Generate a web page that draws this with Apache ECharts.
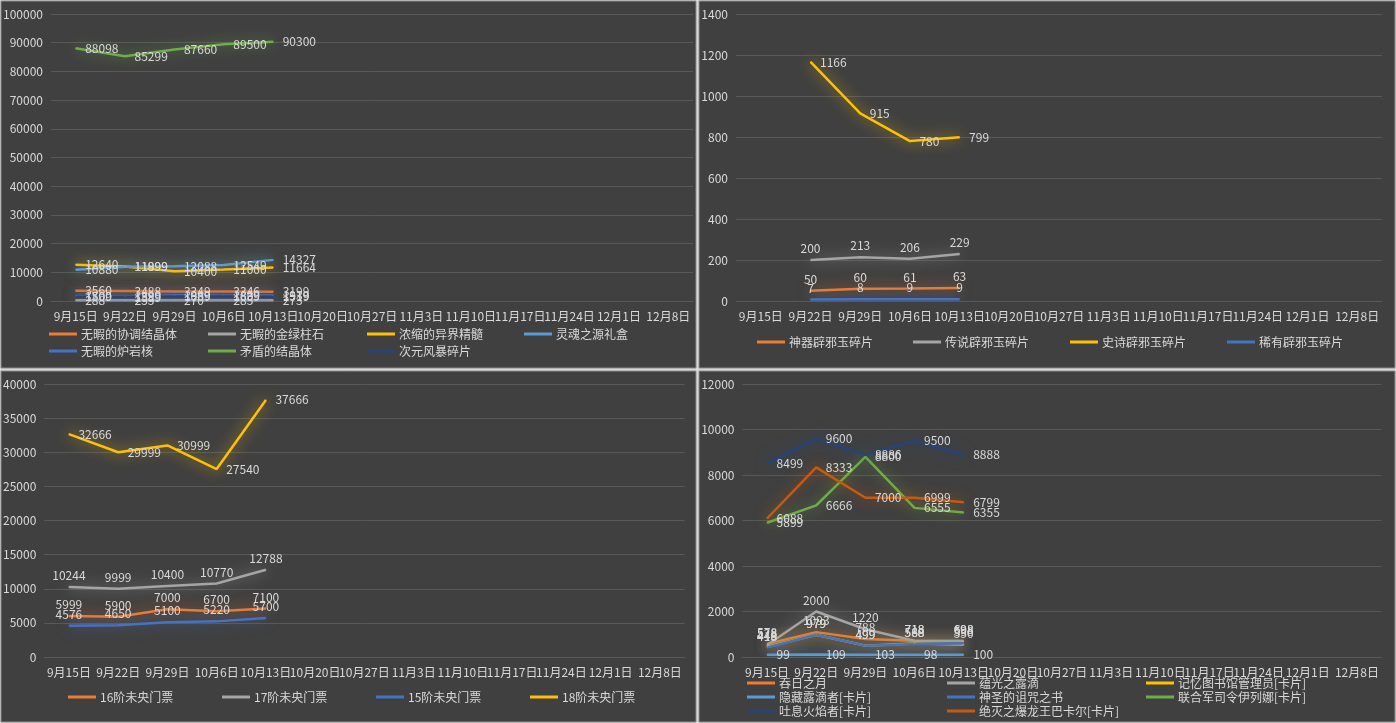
<!DOCTYPE html>
<html><head><meta charset="utf-8">
<script src="https://cdn.jsdelivr.net/npm/echarts@6/dist/echarts.min.js"></script>
<style>html,body{margin:0;padding:0;background:#d0d0d0;}#c{width:1396px;height:723px;}</style>
</head><body><div id="c"></div>
<script>
const categories = ['9月15日','9月22日','9月29日','10月6日','10月13日','10月20日','10月27日','11月3日','11月10日','11月17日','11月24日','12月1日','12月8日'];

// Panel 1
const p1Names = ['无暇的协调结晶体','无暇的金绿柱石','浓缩的异界精髓','灵魂之源礼盒','无暇的炉岩核','矛盾的结晶体','次元风暴碎片'];
const p1Xietiao = [3560, 3488, 3349, 3346, 3199];
const p1Jinlv = [288, 255, 270, 285, 273];
const p1Jingsui = [12640, 11999, 10400, 11000, 11664];
const p1Lihe = [10880, 11899, 12088, 12549, 14327];
const p1Luyan = [1700, 1599, 1989, 1839, 1939];
const p1Maodun = [88098, 85299, 87660, 89500, 90300];
const p1Ciyuan = [1509, 1389, 1609, 1609, 1519];

// Panel 2
const p2Names = ['神器辟邪玉碎片','传说辟邪玉碎片','史诗辟邪玉碎片','稀有辟邪玉碎片'];
const p2Shenqi = [null, 50, 60, 61, 63];
const p2Chuanshuo = [null, 200, 213, 206, 229];
const p2Shishi = [null, 1166, 915, 780, 799];
const p2Xiyou = [null, 7, 8, 9, 9];

// Panel 3
const p3Names = ['16阶未央门票','17阶未央门票','15阶未央门票','18阶未央门票'];
const p3T16 = [5999, 5900, 7000, 6700, 7100];
const p3T17 = [10244, 9999, 10400, 10770, 12788];
const p3T15 = [4576, 4650, 5100, 5220, 5700];
const p3T18 = [32666, 29999, 30999, 27540, 37666];

// Panel 4
const p4Names = ['吞日之月','蕴光之露滴','记忆图书馆管理员[卡片]','隐藏露滴者[卡片]','神圣的诅咒之书','联合军司令伊列娜[卡片]','吐息火焰者[卡片]','绝灭之爆龙王巴卡尔[卡片]'];
const p4Tunri = [578, 1093, 788, 718, 698];
const p4Yunguang = [528, 2000, 1220, 718, 698];
const p4Jiyi = [448, 979, 499, 588, 550];
const p4Yincang = [99, 109, 103, 98, 100];
const p4Shensheng = [418, 979, 499, 568, 598];
const p4Lianhe = [5899, 6666, 8800, 6555, 6355];
const p4Tuxi = [8499, 9600, 8886, 9500, 8888];
const p4Juemie = [6088, 8333, 7000, 6999, 6799];

const FONT = "'Noto Sans CJK SC', 'Microsoft YaHei', sans-serif";
const TXT = '#d9d9d9';
const C = {orange:'#ED7D31', gray:'#A5A5A5', yellow:'#FFC000', lblue:'#5B9BD5', blue:'#4472C4', green:'#70AD47', navy:'#264478', dorange:'#C55A11'};

function mk(name, data, color, idx, pos) {
  return {
    type: 'line', name: name, data: data, xAxisIndex: idx, yAxisIndex: idx,
    symbol: 'circle', symbolSize: 1, showSymbol: true, connectNulls: false,
    lineStyle: {color: color, width: 2.5, shadowColor: color + 'cc', shadowBlur: 14},
    itemStyle: {color: color},
    label: {show: true, position: pos || 'right', distance: pos === 'top' ? 5 : 9, color: TXT, fontSize: 12, fontFamily: FONT},
    emphasis: {disabled: true}, animation: false, z: 3
  };
}

const grids = [
  {left: 50, top: 14, width: 643, height: 287},
  {left: 736, top: 14, width: 646, height: 287},
  {left: 43.5, top: 384, width: 641, height: 273},
  {left: 742.5, top: 384, width: 639, height: 273}
];
const yCfg = [[0, 100000, 10000], [0, 1400, 200], [0, 40000, 5000], [0, 12000, 2000]];

const xAxes = grids.map((g, i) => ({
  type: 'category', gridIndex: i, data: categories, boundaryGap: true,
  axisLine: {show: true, lineStyle: {color: '#595959'}}, axisTick: {show: false},
  axisLabel: {interval: 0, color: TXT, fontSize: 12, fontFamily: FONT, margin: 9}
}));
const yAxes = yCfg.map((c, i) => ({
  type: 'value', gridIndex: i, min: c[0], max: c[1], interval: c[2],
  axisLine: {show: false}, axisTick: {show: false},
  axisLabel: {color: TXT, fontSize: 12, fontFamily: FONT, margin: 8, formatter: v => String(v)},
  splitLine: {lineStyle: {color: '#595959', width: 1}}
}));

const series = [
  mk(p1Names[0], p1Xietiao, C.orange, 0),
  mk(p1Names[1], p1Jinlv, C.gray, 0),
  mk(p1Names[2], p1Jingsui, C.yellow, 0),
  mk(p1Names[3], p1Lihe, C.lblue, 0),
  mk(p1Names[4], p1Luyan, C.blue, 0),
  mk(p1Names[5], p1Maodun, C.green, 0),
  mk(p1Names[6], p1Ciyuan, C.navy, 0),

  mk(p2Names[0], p2Shenqi, C.orange, 1, 'top'),
  mk(p2Names[1], p2Chuanshuo, C.gray, 1, 'top'),
  mk(p2Names[2], p2Shishi, C.yellow, 1),
  mk(p2Names[3], p2Xiyou, C.blue, 1, 'top'),

  mk(p3Names[0], p3T16, C.orange, 2, 'top'),
  mk(p3Names[1], p3T17, C.gray, 2, 'top'),
  mk(p3Names[2], p3T15, C.blue, 2, 'top'),
  mk(p3Names[3], p3T18, C.yellow, 2),

  mk(p4Names[0], p4Tunri, C.orange, 3, 'top'),
  mk(p4Names[1], p4Yunguang, C.gray, 3, 'top'),
  mk(p4Names[2], p4Jiyi, C.yellow, 3, 'top'),
  mk(p4Names[3], p4Yincang, C.lblue, 3),
  mk(p4Names[4], p4Shensheng, C.blue, 3, 'top'),
  mk(p4Names[5], p4Lianhe, C.green, 3),
  mk(p4Names[6], p4Tuxi, C.navy, 3),
  mk(p4Names[7], p4Juemie, C.dorange, 3)
];

function lg(name, left, cy) {
  return {data: [name], left: left, top: cy - 7, padding: 0, icon: 'rect', itemWidth: 28, itemHeight: 3, itemGap: 0,
    selectedMode: false, textStyle: {color: TXT, fontSize: 12, fontFamily: FONT, padding: [0, 0, 0, -1]}};
}
const legends = [
  lg(p1Names[0], 49, 335), lg(p1Names[1], 208, 335), lg(p1Names[2], 367, 335), lg(p1Names[3], 524, 335),
  lg(p1Names[4], 49, 352), lg(p1Names[5], 208, 352), lg(p1Names[6], 367, 352),
  lg(p2Names[0], 757, 343), lg(p2Names[1], 913, 343), lg(p2Names[2], 1070, 343), lg(p2Names[3], 1227, 343),
  lg(p3Names[0], 68, 698), lg(p3Names[1], 222, 698), lg(p3Names[2], 376, 698), lg(p3Names[3], 530, 698),
  lg(p4Names[0], 747, 684), lg(p4Names[1], 947, 684), lg(p4Names[2], 1146, 684),
  lg(p4Names[3], 747, 698), lg(p4Names[4], 947, 698), lg(p4Names[5], 1146, 698),
  lg(p4Names[6], 747, 712), lg(p4Names[7], 947, 712)
];

const panelRects = [[1, 1, 695, 367], [699, 1, 696, 367], [1, 371, 695, 351], [699, 371, 696, 351]].map(r => ({
  type: 'rect', shape: {x: r[0], y: r[1], width: r[2], height: r[3]}, z: -10, silent: true,
  style: {fill: '#404040', stroke: '#8c8c8c', lineWidth: 1}
}));

const chart = echarts.init(document.getElementById('c'), null, {renderer: 'canvas'});
chart.setOption({
  backgroundColor: '#d9d9d9',
  animation: false,
  graphic: panelRects,
  grid: grids,
  xAxis: xAxes,
  yAxis: yAxes,
  legend: legends,
  series: series
});
</script></body></html>
